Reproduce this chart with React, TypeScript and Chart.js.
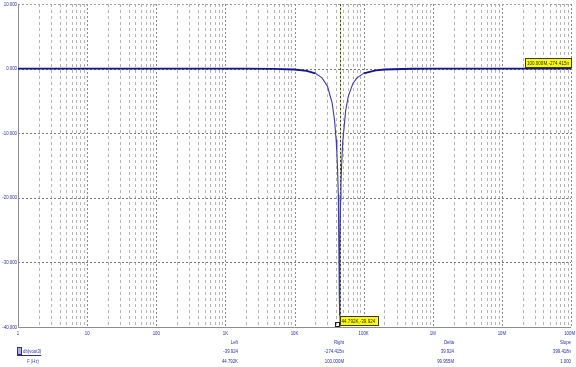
import React, { useEffect, useRef } from "react";
import { Chart, registerables } from "chart.js";

Chart.register(...registerables);

// Frequency (Hz) and db(vout3) values
const freqHz = [
  1, 10, 100, 1000, 2000, 5000, 10000, 15000, 20000, 25000, 30000, 35000,
  38000, 40000, 41000, 42000, 43000, 43500, 44000, 44500, 44792, 45200,
  45500, 46500, 47000, 48000, 50000, 55000, 60000, 70000, 80000, 100000,
  150000, 200000, 500000, 1000000, 10000000, 100000000,
];
const gainDb = [
  0, 0, 0, -0.001, -0.005, -0.03, -0.14, -0.35, -0.73, -1.43, -2.73, -5.29,
  -8.08, -10.97, -12.97, -15.65, -19.5, -22.4, -26.7, -35.4, -39.924, -32.5,
  -27.8, -20.3, -18.1, -15.0, -11.2, -6.49, -4.29, -2.29, -1.44, -0.74,
  -0.27, -0.14, -0.02, -0.005, 0, -274.415e-9,
];

const xTickValues = [1, 10, 100, 1e3, 1e4, 1e5, 1e6, 1e7, 1e8];
const xTickLabels = ["1", "10", "100", "1K", "10K", "100K", "1M", "10M", "100M"];
const yTickValues = [10, 0, -10, -20, -30, -40];
const yTickLabels = ["10.000", "0.000", "-10.000", "-20.000", "-30.000", "-40.000"];

const leftCursorX = 44792;
const leftCursorY = -39.924;
const leftCursorLabel = "44.792K,-39.924";
const rightCursorX = 1e8;
const rightCursorY = -274.415e-9;
const rightCursorLabel = "100.000M,-274.415n";

const traceName = "db(vout3)";
const xName = "F (Hz)";
const tableHeaders = ["Left", "Right", "Delta", "Slope"];
const traceRow = ["-39.924", "-274.415n", "39.924", "399.418n"];
const freqRow = ["44.792K", "100.000M", "99.955M", "1.000"];

const FONT = '6px "Liberation Sans", Arial, sans-serif';
const BLUE = "#2b2ba6";

function drawText(
  ctx: CanvasRenderingContext2D,
  text: string,
  x: number,
  y: number,
  align: CanvasTextAlign,
  color: string,
  sx = 0.72
) {
  ctx.save();
  ctx.translate(x, y);
  ctx.scale(sx, 1);
  ctx.font = FONT;
  ctx.fillStyle = color;
  ctx.textAlign = align;
  ctx.textBaseline = "middle";
  ctx.fillText(text, 0, 0);
  ctx.restore();
}

function textW(ctx: CanvasRenderingContext2D, text: string, sx = 0.72) {
  ctx.save();
  ctx.font = FONT;
  const w = ctx.measureText(text).width * sx;
  ctx.restore();
  return w;
}

const probePlugin = {
  id: "probe",
  beforeDatasetsDraw(chart: any) {
    const ctx: CanvasRenderingContext2D = chart.ctx;
    const { left, right, top, bottom } = chart.chartArea;
    const xs = chart.scales.x;
    const ys = chart.scales.y;
    ctx.save();
    ctx.lineWidth = 1;
    for (let d = 0; d < xTickValues.length - 1; d++) {
      for (let k = 2; k <= 9; k++) {
        const px = Math.round(xs.getPixelForValue(xTickValues[d] * k)) + 0.5;
        ctx.strokeStyle = "#b4b4b4";
        ctx.setLineDash([3, 3]);
        ctx.beginPath();
        ctx.moveTo(px, top);
        ctx.lineTo(px, bottom);
        ctx.stroke();
      }
    }
    for (let i = 1; i < xTickValues.length; i++) {
      const px = Math.round(xs.getPixelForValue(xTickValues[i])) + 0.5;
      ctx.strokeStyle = "#8a8a8a";
      ctx.setLineDash([2, 2]);
      ctx.beginPath();
      ctx.moveTo(px, top);
      ctx.lineTo(px, bottom);
      ctx.stroke();
    }
    for (let i = 0; i < yTickValues.length - 1; i++) {
      const py = Math.round(ys.getPixelForValue(yTickValues[i])) + 0.5;
      ctx.strokeStyle = i === 0 ? "#a0a0a0" : "#7a7a7a";
      ctx.setLineDash([2, 2]);
      ctx.beginPath();
      ctx.moveTo(left, py);
      ctx.lineTo(right, py);
      ctx.stroke();
    }
    ctx.setLineDash([]);
    ctx.strokeStyle = "#8c8c8c";
    ctx.beginPath();
    ctx.moveTo(Math.round(left) + 0.5, top);
    ctx.lineTo(Math.round(left) + 0.5, Math.round(bottom) + 0.5);
    ctx.lineTo(right, Math.round(bottom) + 0.5);
    ctx.stroke();
    const cx = Math.round(xs.getPixelForValue(leftCursorX)) + 0.5;
    ctx.strokeStyle = "#d8d890";
    ctx.beginPath();
    ctx.moveTo(cx, top);
    ctx.lineTo(cx, bottom);
    ctx.stroke();
    ctx.strokeStyle = "#404040";
    ctx.setLineDash([2, 2]);
    ctx.beginPath();
    ctx.moveTo(cx, top);
    ctx.lineTo(cx, bottom);
    ctx.stroke();
    ctx.restore();
  },
  afterDatasetsDraw(chart: any) {
    const ctx: CanvasRenderingContext2D = chart.ctx;
    const { left, right, bottom } = chart.chartArea;
    const xs = chart.scales.x;
    const ys = chart.scales.y;
    yTickValues.forEach((v, i) => {
      drawText(ctx, yTickLabels[i], left - 1, ys.getPixelForValue(v), "right", BLUE);
    });
    xTickValues.forEach((v, i) => {
      let px = xs.getPixelForValue(v);
      const w = textW(ctx, xTickLabels[i]);
      if (px + w / 2 > 575) px = 575 - w / 2;
      drawText(ctx, xTickLabels[i], px, bottom + 6, "center", BLUE);
    });
    const box = (label: string, px: number, py: number, leftSide: boolean) => {
      const w = textW(ctx, label, 0.76) + 4;
      const h = 9;
      const x0 = leftSide ? Math.min(px, right + 1) - w : px;
      const y0 = py - 1.5 - h;
      ctx.save();
      ctx.fillStyle = "#ffff00";
      ctx.fillRect(x0, y0, w, h);
      ctx.strokeStyle = "#3a3a10";
      ctx.lineWidth = 1;
      ctx.strokeRect(Math.round(x0) + 0.5, Math.round(y0) + 0.5, Math.round(w), h);
      ctx.restore();
      drawText(ctx, label, x0 + 2, y0 + h / 2 + 0.5, "left", "#202020", 0.76);
    };
    const lx = xs.getPixelForValue(leftCursorX);
    const ly = ys.getPixelForValue(leftCursorY);
    box(leftCursorLabel, lx, ly, false);
    ctx.save();
    ctx.strokeStyle = "#202020";
    ctx.lineWidth = 1;
    ctx.strokeRect(Math.round(lx) - 4.5, Math.round(ly) - 4.5, 4, 4);
    ctx.restore();
    box(rightCursorLabel, xs.getPixelForValue(rightCursorX), ys.getPixelForValue(rightCursorY), true);

    const r0 = 342;
    const r1 = 351.5;
    const r2 = 361;
    ctx.save();
    ctx.strokeStyle = BLUE;
    ctx.lineWidth = 1;
    ctx.strokeRect(17.5, 347.5, 4, 7);
    ctx.fillStyle = "#b0b0e0";
    ctx.fillRect(18, 348, 3, 6);
    ctx.restore();
    drawText(ctx, traceName, 23, r1, "left", BLUE);
    const tw = textW(ctx, traceName);
    ctx.save();
    ctx.strokeStyle = BLUE;
    ctx.beginPath();
    ctx.moveTo(17, 355.5);
    ctx.lineTo(23 + tw, 355.5);
    ctx.stroke();
    ctx.restore();
    drawText(ctx, xName, 27, r2, "left", "#4a4ab0");
    const colRight = [238, 344, 454, 571];
    tableHeaders.forEach((h, i) => {
      drawText(ctx, h, colRight[i], r0, "right", BLUE);
      drawText(ctx, traceRow[i], colRight[i], r1, "right", BLUE);
      drawText(ctx, freqRow[i], colRight[i], r2, "right", BLUE);
    });
  },
};

export default function App() {
  const ref = useRef<HTMLCanvasElement | null>(null);
  useEffect(() => {
    if (!ref.current) return;
    const chart = new Chart(ref.current, {
      type: "line",
      data: {
        datasets: [
          {
            data: freqHz.map((f, i) => ({ x: f, y: gainDb[i] })),
            borderColor: "#14148c",
            borderWidth: 1.7,
            pointRadius: 0,
            tension: 0,
            fill: false,
            segment: {
              borderWidth: (c: any) =>
                c.p0.parsed.y > -1 && c.p1.parsed.y > -1 ? 1.8 : 1.1,
              borderColor: (c: any) =>
                c.p0.parsed.y > -1 && c.p1.parsed.y > -1 ? "#14148c" : "#3a3aa8",
            },
          },
        ],
      },
      options: {
        responsive: false,
        animation: false,
        events: [],
        layout: { padding: { left: 18, top: 4, right: 5, bottom: 40 } },
        plugins: { legend: { display: false }, tooltip: { enabled: false } },
        scales: {
          x: { type: "logarithmic", min: 1, max: 1e8, display: false },
          y: { type: "linear", min: -40, max: 10, display: false },
        },
      },
      plugins: [probePlugin],
    });
    return () => chart.destroy();
  }, []);
  return (
    <div style={{ position: "fixed", left: 0, top: 0, width: 576, height: 367, background: "#fff" }}>
      <canvas ref={ref} width={576} height={367} />
    </div>
  );
}
